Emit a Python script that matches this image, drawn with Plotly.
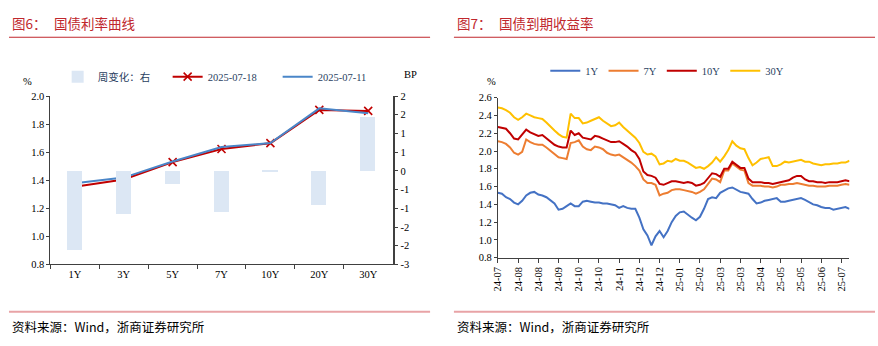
import plotly.graph_objects as go

# ---------------- Figure 6: treasury curve ----------------
tenors = ["1Y", "3Y", "5Y", "7Y", "10Y", "20Y", "30Y"]
yield_0718 = [1.354, 1.405, 1.529, 1.623, 1.664, 1.901, 1.894]
yield_0711 = [1.379, 1.419, 1.533, 1.636, 1.665, 1.912, 1.877]
weekly_change_bp = [-2.54, -1.39, -0.43, -1.33, -0.05, -1.08, 1.72]

bp_tickvals = [-3.0, -2.4, -1.8, -1.2, -0.6, 0.0, 0.6, 1.2, 1.8, 2.4]
bp_ticktext = ["-3", "-2", "-2", "-1", "-1", "0", "1", "1", "2", "2"]

# ---------------- Figure 7: yields to maturity ----------------
date_labels = ["24-07", "24-08", "24-08", "24-09", "24-10", "24-10", "24-11",
               "24-12", "24-12", "25-01", "25-02", "25-03", "25-03", "25-04",
               "25-05", "25-05", "25-06", "25-07"]

ytm_1y = [1.53, 1.52, 1.48, 1.46, 1.42, 1.40, 1.44, 1.50, 1.53, 1.54,
          1.51, 1.50, 1.48, 1.44, 1.41, 1.34, 1.35, 1.38, 1.41, 1.38,
          1.38, 1.43, 1.44, 1.43, 1.42, 1.42, 1.41, 1.41, 1.40, 1.39,
          1.36, 1.38, 1.36, 1.35, 1.35, 1.25, 1.12, 1.05, 0.94, 1.04,
          1.10, 1.03, 1.10, 1.20, 1.27, 1.31, 1.32, 1.28, 1.25, 1.22,
          1.26, 1.35, 1.46, 1.48, 1.47, 1.53, 1.56, 1.58, 1.59, 1.56,
          1.54, 1.53, 1.52, 1.46, 1.41, 1.42, 1.44, 1.45, 1.46, 1.47,
          1.43, 1.43, 1.44, 1.45, 1.46, 1.47, 1.45, 1.42, 1.40, 1.39,
          1.37, 1.36, 1.36, 1.34, 1.35, 1.36, 1.37, 1.35]

ytm_7y = [2.11, 2.10, 2.08, 2.04, 1.98, 1.96, 1.99, 2.13, 2.10, 2.08,
          2.07, 2.07, 2.04, 2.00, 1.96, 1.93, 1.92, 1.91, 2.09, 2.10,
          2.12, 2.05, 2.02, 2.01, 2.05, 2.04, 2.02, 1.98, 1.96, 1.95,
          1.96, 1.93, 1.90, 1.87, 1.83, 1.78, 1.68, 1.64, 1.64, 1.62,
          1.50, 1.52, 1.53, 1.56, 1.57, 1.57, 1.56, 1.55, 1.54, 1.52,
          1.54, 1.57, 1.63, 1.69, 1.68, 1.65, 1.78, 1.78, 1.86, 1.82,
          1.79, 1.78, 1.64, 1.61, 1.61, 1.61, 1.60, 1.60, 1.59, 1.60,
          1.62, 1.62, 1.63, 1.63, 1.64, 1.63, 1.62, 1.61, 1.61, 1.60,
          1.60, 1.60, 1.61, 1.61, 1.61, 1.62, 1.63, 1.62]

ytm_10y = [2.27, 2.26, 2.25, 2.20, 2.14, 2.13, 2.18, 2.24, 2.21, 2.19,
           2.17, 2.18, 2.14, 2.10, 2.07, 2.05, 2.04, 2.04, 2.23, 2.18,
           2.20, 2.15, 2.14, 2.13, 2.17, 2.16, 2.14, 2.12, 2.10, 2.10,
           2.11, 2.08, 2.05, 2.01, 1.98, 1.91, 1.77, 1.73, 1.72, 1.70,
           1.63, 1.62, 1.64, 1.66, 1.66, 1.65, 1.64, 1.65, 1.64, 1.61,
           1.62, 1.64, 1.69, 1.75, 1.74, 1.71, 1.80, 1.80, 1.88, 1.84,
           1.81, 1.81, 1.69, 1.65, 1.65, 1.65, 1.64, 1.64, 1.63, 1.64,
           1.65, 1.66, 1.67, 1.70, 1.72, 1.72, 1.68, 1.66, 1.66, 1.65,
           1.65, 1.64, 1.65, 1.65, 1.65, 1.66, 1.67, 1.66]

ytm_30y = [2.49, 2.48, 2.46, 2.43, 2.38, 2.35, 2.38, 2.42, 2.40, 2.38,
           2.37, 2.36, 2.32, 2.27, 2.23, 2.19, 2.16, 2.15, 2.42, 2.37,
           2.37, 2.31, 2.32, 2.34, 2.36, 2.38, 2.34, 2.31, 2.28, 2.29,
           2.32, 2.27, 2.23, 2.19, 2.15, 2.09, 1.99, 1.96, 1.97, 1.94,
           1.85, 1.86, 1.89, 1.88, 1.91, 1.89, 1.89, 1.87, 1.84, 1.81,
           1.82, 1.80, 1.83, 1.87, 1.93, 1.88, 1.94, 2.01, 2.11, 2.06,
           2.03, 2.02, 1.92, 1.84, 1.87, 1.91, 1.92, 1.93, 1.83, 1.83,
           1.85, 1.88, 1.87, 1.88, 1.89, 1.90, 1.88, 1.88, 1.86, 1.85,
           1.84, 1.85, 1.85, 1.86, 1.86, 1.87, 1.87, 1.89]

obs = list(range(len(ytm_1y)))
label_step = 5
date_tickvals = obs[::label_step][:len(date_labels)]

SERIF = "Liberation Serif, Times New Roman, serif"
CJK = "Noto Sans CJK SC, sans-serif"
RED_TITLE = "#C0272D"
AXIS = "#404040"

fig = go.Figure()

# bars: weekly change on the BP axis
fig.add_trace(go.Bar(
    x=tenors, y=weekly_change_bp, name="周变化：右",
    marker=dict(color="#DCE7F4", line=dict(width=0)),
    width=0.31, xaxis="x", yaxis="y2", legend="legend",
))
fig.add_trace(go.Scatter(
    x=tenors, y=yield_0718, name="2025-07-18", mode="lines+markers",
    line=dict(color="#C00000", width=2),
    marker=dict(symbol="x-thin", size=8, line=dict(color="#C00000", width=1.6)),
    xaxis="x", yaxis="y", legend="legend",
))
fig.add_trace(go.Scatter(
    x=tenors, y=yield_0711, name="2025-07-11", mode="lines",
    line=dict(color="#4A86C8", width=2),
    xaxis="x", yaxis="y", legend="legend",
))

# yield time series
for name, vals, color in [("1Y", ytm_1y, "#4472C4"), ("7Y", ytm_7y, "#ED7D31"),
                          ("10Y", ytm_10y, "#C00000"), ("30Y", ytm_30y, "#FFC000")]:
    fig.add_trace(go.Scatter(
        x=obs, y=vals, name=name, mode="lines",
        line=dict(color=color, width=2),
        xaxis="x3", yaxis="y3", legend="legend2",
    ))

W, H = 878, 346


def px(v):
    return v / W


def py(v):
    return 1 - v / H


tickfont = dict(family=SERIF, size=10.5, color="#000000")

fig.update_layout(
    width=W, height=H, margin=dict(l=0, r=0, t=0, b=0),
    paper_bgcolor="white", plot_bgcolor="white",
    showlegend=True, bargap=0,
    xaxis=dict(domain=[px(44.7), px(389.3)], anchor="y", type="category",
               range=[-0.5, 6.5], showline=True, linecolor=AXIS, linewidth=1,
               ticks="outside", tickson="boundaries", ticklen=4, tickcolor=AXIS,
               showgrid=False, zeroline=False, tickfont=tickfont),
    yaxis=dict(domain=[py(268), py(94)], anchor="x", range=[0.8, 2.0],
               dtick=0.2, tickformat=".1f", showline=True, linecolor=AXIS,
               ticks="outside", ticklen=3, tickcolor=AXIS, showgrid=False,
               zeroline=False, tickfont=tickfont),
    yaxis2=dict(anchor="x", overlaying="y", side="right", range=[-3.0, 2.4],
                tickmode="array", tickvals=bp_tickvals, ticktext=bp_ticktext,
                showline=True, linecolor=AXIS, linewidth=1.5, ticks="outside",
                ticklen=4, tickcolor=AXIS, showgrid=False, zeroline=False,
                tickfont=tickfont),
    xaxis3=dict(domain=[px(495.3), px(849.3)], anchor="y3",
                range=[0, len(obs) - 1], tickmode="array",
                tickvals=date_tickvals, ticktext=date_labels, tickangle=-90,
                showline=True, linecolor=AXIS, ticks="outside", ticklen=4,
                tickcolor=AXIS, showgrid=False, zeroline=False, tickfont=tickfont),
    yaxis3=dict(domain=[py(261), py(95.7)], anchor="x3", range=[0.8, 2.6],
                dtick=0.2, tickformat=".1f", showline=True, linecolor=AXIS,
                ticks="outside", ticklen=3, tickcolor=AXIS, showgrid=False,
                zeroline=False, tickfont=tickfont),
    legend=dict(orientation="h", x=px(52), y=py(74), xanchor="left",
                yanchor="middle", font=dict(family=SERIF + ", " + CJK, size=10.5),
                bgcolor="rgba(0,0,0,0)", itemwidth=30, entrywidth=65,
                tracegroupgap=0),
    legend2=dict(orientation="h", x=px(543), y=py(68), xanchor="left",
                 yanchor="middle", font=dict(family=SERIF, size=10.5),
                 bgcolor="rgba(0,0,0,0)", itemwidth=30),
)

# titles, rules, units and source notes
notes = [
    ("图6：", 4, 19, RED_TITLE, 13.5, CJK),
    ("国债利率曲线", 46, 19, RED_TITLE, 13.5, CJK),
    ("图7：", 452, 19, RED_TITLE, 13.5, CJK),
    ("国债到期收益率", 494, 19, RED_TITLE, 13.5, CJK),
    ("资料来源：Wind，浙商证券研究所", 4, 332, "#000000", 12.5, CJK),
    ("资料来源：Wind，浙商证券研究所", 452, 332, "#000000", 12.5, CJK),
]
for text, x0, y0, color, size, fam in notes:
    fig.add_annotation(text=text, xref="paper", yref="paper", x=px(x0), y=py(y0),
                       xanchor="left", yanchor="middle", showarrow=False,
                       font=dict(family=fam, size=size, color=color))

for text, x0, y0 in [("%", 22, 79), ("BP", 407, 72), ("%", 489, 79)]:
    fig.add_annotation(text=text, xref="paper", yref="paper", x=px(x0), y=py(y0),
                       xanchor="center", yanchor="middle", showarrow=False,
                       font=dict(family=SERIF, size=10.5, color="#000000"))

for x0, x1, y0, color, lw in [(3, 427, 33.3, "#C0272D", 1.2), (451, 875, 33.3, "#C0272D", 1.2),
                              (3, 427, 316.7, "#E8A3A6", 2), (451, 875, 316.7, "#E8A3A6", 2)]:
    fig.add_shape(type="line", xref="paper", yref="paper",
                  x0=px(x0), x1=px(x1), y0=py(y0), y1=py(y0),
                  line=dict(color=color, width=lw))

fig.write_html("out.html")
